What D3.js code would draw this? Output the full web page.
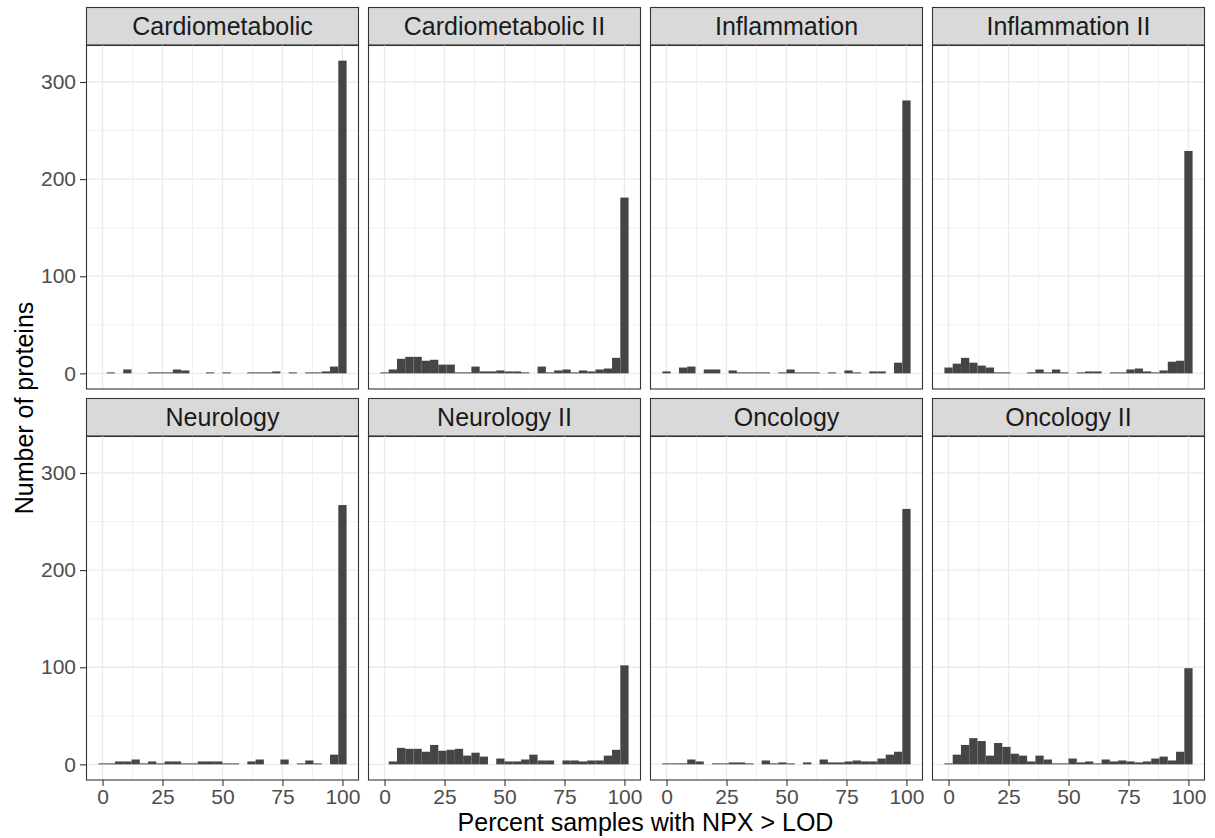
<!DOCTYPE html>
<html>
<head>
<meta charset="utf-8">
<script src="https://cdn.jsdelivr.net/npm/d3@7"></script>
<style>
  body { margin: 0; background: #fff; }
  svg { display: block; font-family: "Liberation Sans", Arial, sans-serif; }
</style>
</head>
<body>
<svg id="chart" width="1215" height="838"></svg>
<script>
// panels in facet order (2 rows x 4 cols)
const panels = [
  "Cardiometabolic", "Cardiometabolic II", "Inflammation", "Inflammation II",
  "Neurology", "Neurology II", "Oncology", "Oncology II"
];

// 30 bins, centred on 0 .. 100
const cardiometabolic   = [0,1,0,4,0,0,1,1,1,4,3,0,0,1,0,1,0,0,1,1,1,2,0,1,0,1,1,2,7,322];
const cardiometabolicII = [1,4,15,17,17,13,14,9,9,1,1,7,2,2,3,2,2,1,0,7,1,3,4,1,3,2,4,5,16,181];
const inflammation      = [2,0,6,7,0,4,4,0,3,1,1,1,1,0,1,4,1,1,1,0,1,0,3,1,0,2,2,0,11,281];
const inflammationII    = [6,10,16,11,8,6,1,1,0,0,1,4,1,4,1,0,1,2,2,0,1,1,4,5,2,1,3,12,13,229];
const neurology         = [1,1,3,3,5,1,3,1,3,3,1,1,3,3,3,1,1,0,3,5,0,0,5,0,1,4,1,0,10,267];
const neurologyII       = [0,3,17,16,16,13,20,14,15,16,9,12,8,0,6,3,3,5,10,4,4,0,4,4,3,4,4,9,15,102];
const oncology          = [1,1,1,5,3,0,1,1,2,2,1,0,4,1,2,1,0,2,0,5,2,2,3,4,3,3,6,10,13,263];
const oncologyII        = [1,10,20,27,24,9,22,18,11,9,3,9,5,1,1,6,2,3,1,5,3,4,3,2,3,6,8,4,13,99];

const counts = [cardiometabolic, cardiometabolicII, inflammation, inflammationII,
                neurology, neurologyII, oncology, oncologyII];

const xTicks = [0, 25, 50, 75, 100];
const xMinor = [12.5, 37.5, 62.5, 87.5];
const yTicks = [0, 100, 200, 300];
const yMinor = [50, 150, 250];

const xTitle = "Percent samples with NPX > LOD";
const yTitle = "Number of proteins";

// layout
const nBins = 30;
const binW = 100 / (nBins - 1);
const plotLeft = 86, plotTop = 7;
const panelW = 273, gap = 9;
const stripH = 38, panelH = 344;

const svg = d3.select("#chart");

// shared scales (fixed facets)
const xLo = -binW / 2, xHi = 100 + binW / 2;
const xPad = (xHi - xLo) * 0.05;
const x = d3.scaleLinear().domain([xLo - xPad, xHi + xPad]).range([0, panelW]);

const yMax = d3.max(counts, c => d3.max(c));
const y = d3.scaleLinear().domain([-yMax * 0.05, yMax * 1.05]).range([panelH, 0]);

function styleAxis(g) {
  g.select(".domain").remove();
  g.selectAll(".tick line").attr("stroke", "#333").attr("stroke-width", 1.1);
  g.selectAll(".tick text")
    .attr("fill", "#4d4d4d")
    .style("font-size", "21px")
    .style("font-family", "'Liberation Sans', Arial, sans-serif");
}

panels.forEach((name, i) => {
  const col = i % 4, row = Math.floor(i / 4);
  const px = plotLeft + col * (panelW + gap);
  const sy = plotTop + row * (stripH + panelH + gap);
  const py = sy + stripH;

  // strip
  const s = svg.append("g").attr("transform", `translate(${px},${sy})`);
  s.append("rect")
    .attr("x", 0.5).attr("y", 0.5)
    .attr("width", panelW - 1).attr("height", stripH)
    .attr("fill", "#d9d9d9").attr("stroke", "#333").attr("stroke-width", 1.1);
  s.append("text")
    .attr("x", panelW / 2).attr("y", stripH / 2 + 9)
    .attr("text-anchor", "middle")
    .attr("fill", "#1a1a1a")
    .style("font-size", "25px")
    .text(name);

  const g = svg.append("g").attr("transform", `translate(${px},${py})`);

  // grid
  g.selectAll(".xminor").data(xMinor).join("line")
    .attr("x1", d => x(d)).attr("x2", d => x(d))
    .attr("y1", 0).attr("y2", panelH)
    .attr("stroke", "#ebebeb").attr("stroke-width", 0.7);
  g.selectAll(".yminor").data(yMinor).join("line")
    .attr("y1", d => y(d)).attr("y2", d => y(d))
    .attr("x1", 0).attr("x2", panelW)
    .attr("stroke", "#ebebeb").attr("stroke-width", 0.7);
  g.selectAll(".xmajor").data(xTicks).join("line")
    .attr("x1", d => x(d)).attr("x2", d => x(d))
    .attr("y1", 0).attr("y2", panelH)
    .attr("stroke", "#ebebeb").attr("stroke-width", 1.4);
  g.selectAll(".ymajor").data(yTicks).join("line")
    .attr("y1", d => y(d)).attr("y2", d => y(d))
    .attr("x1", 0).attr("x2", panelW)
    .attr("stroke", "#ebebeb").attr("stroke-width", 1.4);

  // bars
  g.selectAll(".bar").data(counts[i]).join("rect")
    .attr("x", (d, k) => x(k * binW - binW / 2))
    .attr("width", x(binW) - x(0))
    .attr("y", d => y(d))
    .attr("height", d => y(0) - y(d))
    .attr("fill", "#454545");

  // border
  g.append("rect")
    .attr("x", 0.5).attr("y", 0)
    .attr("width", panelW - 1).attr("height", panelH)
    .attr("fill", "none").attr("stroke", "#333").attr("stroke-width", 1.1);

  if (col === 0) {
    g.append("g")
      .call(d3.axisLeft(y).tickValues(yTicks).tickSize(6).tickPadding(4))
      .call(styleAxis);
  }
  if (row === 1) {
    g.append("g")
      .attr("transform", `translate(0,${panelH})`)
      .call(d3.axisBottom(x).tickValues(xTicks).tickSize(6).tickPadding(3))
      .call(styleAxis);
  }
});

// axis titles
const plotRight = plotLeft + 4 * panelW + 3 * gap;
svg.append("text")
  .attr("x", (plotLeft + plotRight) / 2)
  .attr("y", 831)
  .attr("text-anchor", "middle")
  .attr("fill", "#000")
  .style("font-size", "25px")
  .text(xTitle);

svg.append("text")
  .attr("transform", "rotate(-90)")
  .attr("x", -408)
  .attr("y", 33)
  .attr("text-anchor", "middle")
  .attr("fill", "#000")
  .style("font-size", "25px")
  .text(yTitle);
</script>
</body>
</html>
